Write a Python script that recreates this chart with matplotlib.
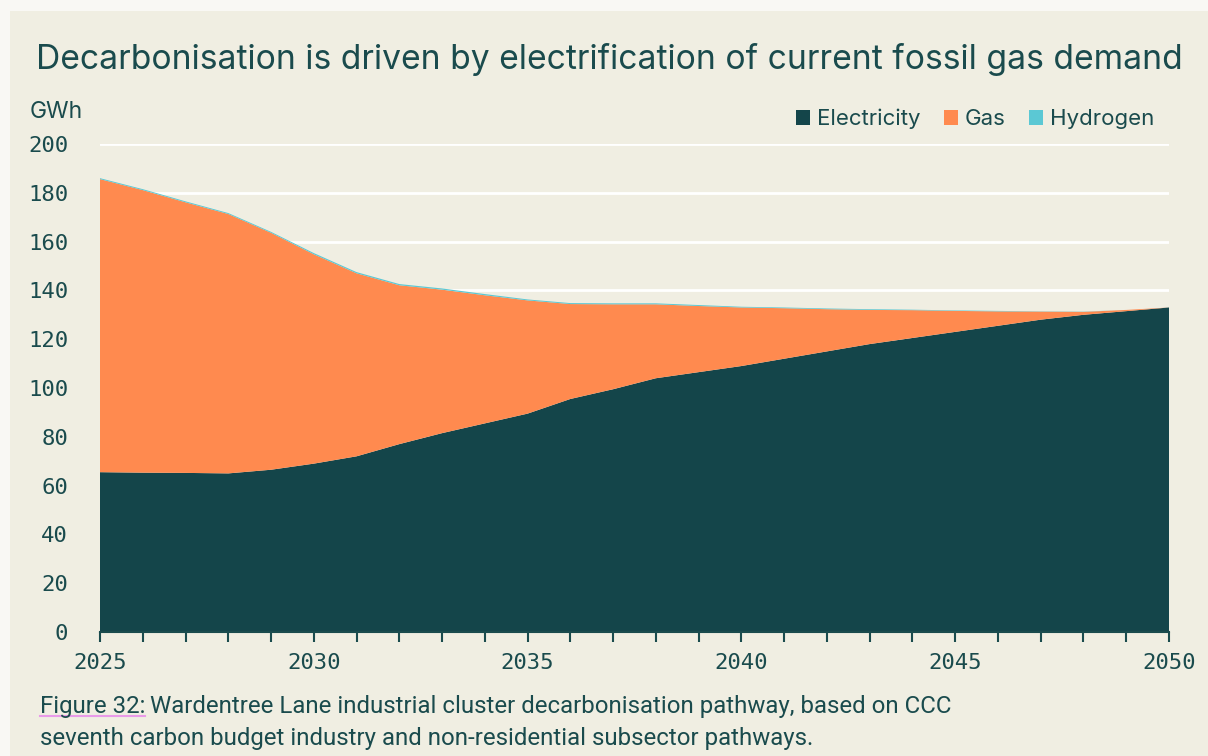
import matplotlib.pyplot as plt
from matplotlib.patches import Rectangle, Patch
from matplotlib.lines import Line2D

years = list(range(2025, 2051))
electricity = [65.5, 65.3, 65.2, 65.0, 66.5, 69.0, 72.0, 77.0, 81.5, 85.5,
               89.5, 95.5, 99.5, 104.0, 106.5, 109.0, 112.0, 115.0, 118.0, 120.5,
               123.0, 125.5, 128.0, 130.0, 131.5, 133.0]
gas = [120.1, 115.8, 110.9, 106.3, 97.1, 85.8, 75.0, 65.1, 58.8, 52.5,
       46.4, 38.9, 34.8, 30.3, 27.1, 24.0, 20.7, 17.3, 14.0, 11.4,
       8.6, 5.9, 3.3, 1.2, 0.5, 0.0]
hydrogen = [0.4, 0.4, 0.4, 0.4, 0.4, 0.5, 0.5, 0.5, 0.5, 0.5,
            0.4, 0.4, 0.4, 0.4, 0.4, 0.3, 0.3, 0.3, 0.3, 0.2,
            0.2, 0.2, 0.1, 0.1, 0.0, 0.0]
labels = ["Electricity", "Gas", "Hydrogen"]
colors = ["#14454a", "#ff8a4f", "#5bc8d4"]

teal = "#1a4b4d"
panel = "#f0eee2"
W, H = 1208, 756

fig = plt.figure(figsize=(W / 100, H / 100), dpi=100)
fig.patch.set_facecolor("#f9f8f4")
fig.add_artist(Rectangle((10 / W, 0), 1, 1 - 11 / H, transform=fig.transFigure,
                         facecolor=panel, edgecolor="none", zorder=0))

ax = fig.add_axes([100 / W, 1 - 632 / H, (1169 - 100) / W, (632 - 144) / H])
ax.patch.set_alpha(0)

ax.stackplot(years, electricity, gas, hydrogen, colors=colors, linewidth=0, zorder=2)

ax.set_xlim(2025, 2050)
ax.set_ylim(0, 200)
ax.set_yticks(range(0, 201, 20))
for v in range(20, 201, 20):
    ax.axhline(v, color="white", lw=2, zorder=1)

ax.set_xticks(years)
ax.set_xticklabels([str(y) if y % 5 == 0 else "" for y in years])
ax.tick_params(axis="x", length=7, width=1.5, color=teal, pad=8,
               labelsize=16, labelcolor=teal)
ax.tick_params(axis="y", length=0, pad=23, labelsize=16, labelcolor=teal)
for lab in ax.get_xticklabels() + ax.get_yticklabels():
    lab.set_fontfamily("DejaVu Sans Mono")

for s in ["top", "right", "left"]:
    ax.spines[s].set_visible(False)
ax.spines["bottom"].set_color(teal)
ax.spines["bottom"].set_linewidth(1.5)
ax.spines["bottom"].set_zorder(3)

fig.text(36 / W, 1 - 69 / H, "Decarbonisation is driven by electrification of current fossil gas demand",
         fontsize=24.2, family="Inter", color=teal, va="baseline", ha="left")
fig.text(30 / W, 1 - 118 / H, "GWh", fontsize=16.5, family="Inter", color=teal,
         va="baseline", ha="left")

handles = [Patch(facecolor=c, edgecolor="none") for c in colors]
fig.legend(handles, labels, loc="center right", bbox_to_anchor=(1165 / W, 1 - 119 / H),
           ncol=3, frameon=False, handlelength=0.63, handleheight=0.63,
           handletextpad=0.3, columnspacing=1.05, labelcolor=teal,
           borderpad=0, prop={"family": "Inter", "size": 16})

# caption with underlined figure number
cap_kw = dict(fontsize=17.3, family="Roboto", color=teal, va="baseline", ha="left")
fig_num = fig.text(40 / W, 1 - 713 / H, "Figure 32:", **cap_kw)
fig.canvas.draw()
bb = fig_num.get_window_extent().transformed(fig.transFigure.inverted())
fig.add_artist(Line2D([bb.x0, bb.x1], [1 - 716 / H, 1 - 716 / H], transform=fig.transFigure,
                      color="#e99ae9", lw=1.5))
fig.text(bb.x1 + 5 / W, 1 - 713 / H,
         "Wardentree Lane industrial cluster decarbonisation pathway, based on CCC", **cap_kw)
fig.text(40 / W, 1 - 745 / H,
         "seventh carbon budget industry and non-residential subsector pathways.", **cap_kw)

fig.savefig("out.png", dpi=100, facecolor=fig.get_facecolor())
